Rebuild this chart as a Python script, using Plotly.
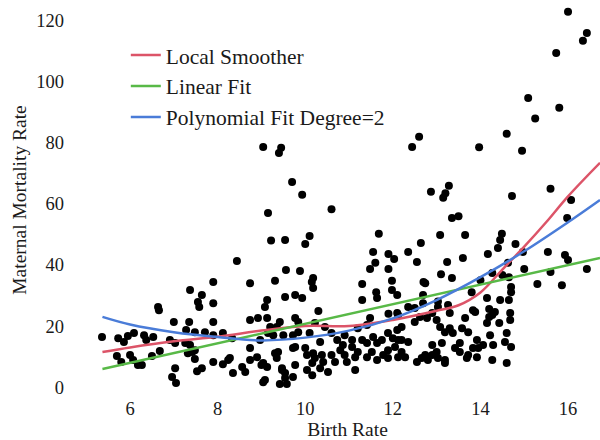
import plotly.graph_objects as go

# ---- scatter data ----
birth_rate = [
    16.0, 16.43, 16.34, 15.73, 15.09, 15.8, 15.25, 14.6, 13.97, 14.95, 12.6, 12.44, 13.28, 13.2, 13.15, 12.87,
    14.72, 15.6, 16.07, 15.98, 9.93, 10.6, 13.5, 13.35,
    9.04, 9.45, 9.4, 9.7, 9.15, 11.68, 10.1, 9.22, 9.54, 10.0, 8.44, 11.55, 11.9, 12.03, 11.6, 11.48, 11.9,
    9.56, 9.88, 7.9, 8.74, 9.31, 10.18, 10.15, 11.3, 11.98,
    13.08, 13.65, 14.49, 14.45, 14.4, 12.64, 12.35, 12.55, 13.24, 13.6, 14.17, 14.8, 14.97, 15.54, 15.93, 16.0,
    16.43, 15.6, 15.3, 15.86, 15.0, 14.63, 14.65, 14.7, 14.7, 14.5, 14.27, 13.1, 13.35, 12.7, 14.0, 13.8, 14.15,
    14.45, 14.65, 13.83, 14.2, 14.27, 14.68, 14.68, 14.43, 14.2,
    9.54, 9.13, 9.08, 9.77, 8.92, 9.13, 9.42, 9.77, 9.35, 9.2, 9.72, 9.27, 8.97, 9.72, 9.31, 9.35, 8.9, 8.74,
    9.0, 9.13, 9.77, 9.47, 9.54, 9.72, 9.04, 9.42, 9.58, 8.28, 8.35, 8.63, 7.9,
    5.36, 5.73, 5.86, 5.95, 6.09, 6.32, 6.37, 6.53, 5.7, 5.8, 6.0, 6.07, 6.18, 6.27, 6.5, 6.68, 6.64, 6.66, 7.0,
    7.37, 7.64, 7.55, 7.58, 7.9, 7.35, 7.28, 7.48, 7.71, 6.91, 7.03, 7.26, 7.37, 7.42, 7.48, 7.32, 7.48, 7.03,
    6.96, 7.05, 7.53, 7.64, 7.9, 8.12, 8.24, 8.56, 8.12, 8.33, 7.9, 8.74,
    10.18, 11.98, 12.1, 11.62, 11.64, 11.3, 9.93, 9.84, 10.3, 10.22, 10.45, 10.34, 10.6, 10.73, 10.9, 11.07,
    10.86, 11.07, 11.3, 11.41, 11.55, 11.64, 11.75, 11.89, 12.0, 12.1, 12.2, 12.2, 11.41, 11.2, 9.84, 9.5, 10.1,
    9.15, 8.74, 9.04, 9.38, 9.77, 10.0, 10.04, 10.18, 10.22, 10.16, 10.38, 10.41, 10.34, 10.6, 10.68, 10.8,
    10.9, 10.95, 11.14, 11.2, 11.41, 11.52, 11.64, 11.78, 11.89, 12.05, 11.89, 12.12, 11.14, 10.52, 10.04,
    9.47, 9.08, 9.54, 10.16,
    11.48, 11.9, 12.12,
    12.74, 12.69, 12.1, 12.5, 12.62, 12.78, 12.9, 13.03, 13.26, 13.3, 13.0, 13.08, 13.19, 13.3, 13.37, 13.58,
    13.65, 13.72, 13.88, 14.15, 14.33, 14.6, 14.22, 14.56, 14.7, 14.29, 14.06, 13.92, 13.83, 13.95, 13.53,
    13.53, 13.42, 13.72, 13.69, 13.92, 14.27, 14.6, 13.12, 12.9, 13.0, 12.74, 12.9, 13.03, 13.19, 13.19, 12.8,
    12.66, 12.55, 12.2, 12.28, 12.12, 12.35,
    12.35, 12.5, 12.69, 13.03,
]
mortality = [
    123, 116, 113.5, 109.5, 94.7, 91.5, 88, 83, 78.6, 77.4, 82, 78.7, 66, 63.5, 62, 64,
    62.6, 65, 61.3, 55.4, 63, 58.3, 56, 55.4,
    78.7, 78.4, 76.7, 67.2, 57, 50.2, 49.5, 48, 48.2, 46.9, 41.3, 44.3, 43.6, 42, 40.7, 38.7, 38.7,
    38.4, 38, 34.4, 34, 34.8, 35.7, 34.4, 33.8, 34.8,
    49.8, 49.8, 50.2, 48.2, 45.6, 47.2, 44.3, 41, 41, 42.3, 43.6, 46.9, 44.3, 44.3, 43.3, 41.6,
    38.7, 37.7, 33.8, 33.4, 38.7, 40.7, 36, 32.8, 31.1, 36.7, 37.4, 37, 35.7, 34.4, 35, 31.1, 29.2,
    28.5, 28.5, 25.2, 25.6, 23.6, 24.3, 22, 21, 23,
    29.5, 28.5, 26.2, 30.2, 22.6, 22.6, 21.3, 22.6, 19.7, 19.7, 17, 17, 15.4, 12.8, 11.1, 9.5, 9.8, 8.9,
    7.2, 6.6, 7.2, 5.6, 4.6, 3.3, 1.6, 1, 1, 9.5, 4.6, 4.9, 21.3,
    16.4, 16, 14.8, 16.7, 17.7, 17, 15.4, 16.4, 10.2, 8.2, 10.5, 8.9, 7.2, 7.2, 10.2, 11.8, 26.2, 25.2, 21.3,
    31.8, 30.2, 27.9, 26.2, 27.5, 21.3, 18.7, 18, 18, 15.4, 14.4, 14.4, 13.8, 11.5, 12.1, 11.1, 9.2, 6.2,
    3.3, 1.3, 5.2, 6.2, 8.2, 7.5, 8.9, 6.6, 17.7, 16, 17, 22,
    32.5, 31.8, 30.2, 31.1, 29.2, 28.5, 29.2, 21.3, 24.9, 21, 19.7, 14.8, 17.7, 15.4, 17, 15.4,
    13.8, 13.1, 15.4, 14.4, 16.4, 14.4, 15.4, 17.7, 16, 18.7, 19.7, 15.4, 20.3, 19.3, 18, 17, 17.7,
    17.7, 12.8, 7.9, 11.5, 13.1, 12.8, 10.5, 11.1, 9.5, 7.9, 10.5, 8.2, 6.2, 10.5, 8.2, 12.1,
    10.5, 8.2, 9.8, 11.5, 9.8, 11.5, 8.9, 10.5, 12.1, 13.1, 9.5, 9.8, 5.6, 4.9, 5.6,
    6.2, 2.3, 3, 3.9,
    22.6, 24, 23.6,
    34, 30.2, 24.3, 21.3, 23, 22.6, 24.3, 26.2, 26.9, 24.3, 22, 19.7, 18, 19.3, 17.7, 19.3,
    22.6, 18, 24.6, 21, 24.6, 17.7, 17, 14.8, 13.1, 13.8, 13.8, 15.4, 12.8, 12.8, 14.4,
    11.5, 12.8, 10.5, 9.5, 9.8, 8.9, 7.9, 14.4, 13.8, 11.5, 10.5, 10.5, 9.5, 8.9, 7.9, 8.9,
    9.5, 8.2, 11.5, 9.8, 15.4, 14.8,
    26.2, 25.9, 27.5, 28,
]

# ---- fitted curves ----
smoother_x = [5.37, 6, 7, 8, 9, 10, 11, 12, 13, 13.5, 14, 14.5, 15, 15.5, 16, 16.73]
smoother_y = [11.5, 13, 15, 16.5, 18.5, 20, 20, 22, 25, 26.8, 31, 38.5, 46, 54, 62.5, 73.5]

linear_x = [5.37, 8, 11, 14, 16.73]
linear_y = [5.9, 14.3, 24.0, 33.6, 42.3]

poly_x = [5.37, 6, 7, 8, 9, 10, 11, 12, 13, 14, 15, 16, 16.73]
poly_y = [23, 20.5, 18, 16.4, 15.3, 16.2, 18.5, 22.5, 28.5, 36, 44.5, 54, 61.3]

x_ticks = [6, 8, 10, 12, 14, 16]
y_ticks = [0, 20, 40, 60, 80, 100, 120]

FONT = "Liberation Serif, Times New Roman, serif"
TXT = "#1a1a1a"

fig = go.Figure()
fig.add_trace(go.Scatter(
    x=birth_rate, y=mortality, mode="markers",
    marker=dict(color="black", size=8, line=dict(width=0)),
    showlegend=False, hoverinfo="skip",
))
fig.add_trace(go.Scatter(x=smoother_x, y=smoother_y, mode="lines", name="Local Smoother",
                         line=dict(color="#dc5468", width=2.5, shape="spline"),
                         legendgroup="a"))
fig.add_trace(go.Scatter(x=linear_x, y=linear_y, mode="lines", name="Linear Fit",
                         line=dict(color="#58b947", width=2.5), legendgroup="b"))
fig.add_trace(go.Scatter(x=poly_x, y=poly_y, mode="lines", name="Polynomial Fit Degree=2",
                         line=dict(color="#4a7cd8", width=2.5, shape="spline"),
                         legendgroup="c"))

fig.update_layout(
    width=600, height=440,
    margin=dict(l=95, r=0, t=5, b=45),
    paper_bgcolor="white", plot_bgcolor="white",
    font=dict(family=FONT, color=TXT, size=18.5),
    showlegend=True,
    legend=dict(
        x=0.061, y=0.924, xanchor="left", yanchor="top",
        bgcolor="rgba(0,0,0,0)", borderwidth=0,
        font=dict(family=FONT, size=21.5, color=TXT),
        traceorder="grouped", tracegroupgap=0,
    ),
    xaxis=dict(
        range=[5.2, 16.73], tickvals=x_ticks, showgrid=False, zeroline=False,
        showline=False, ticks="", ticklabelstandoff=0,
        tickfont=dict(family=FONT, size=18.5, color=TXT),
        title=dict(text="Birth Rate", font=dict(family=FONT, size=19.5, color=TXT), standoff=4),
    ),
    yaxis=dict(
        range=[-2.6, 125.2], tickvals=y_ticks, showgrid=False, zeroline=False,
        showline=False, ticks="", ticklabelstandoff=30,
        tickfont=dict(family=FONT, size=18.5, color=TXT),
        title=dict(text="Maternal Mortality Rate", font=dict(family=FONT, size=19.5, color=TXT), standoff=4),
    ),
)

fig.write_html("out.html", config={"displayModeBar": False},
               post_script="document.body.style.margin='0';document.body.style.overflow='hidden';")
